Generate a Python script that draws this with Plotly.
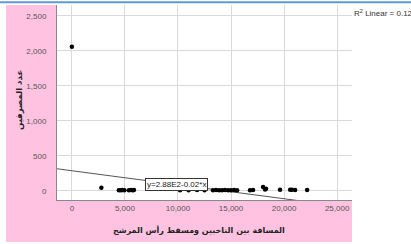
import plotly.graph_objects as go

# Data
distance = [0, 2780, 4430, 4620, 4760, 4950, 5380, 5570, 5750, 5850,
            10200, 11000, 11800, 12500,
            13300, 13585, 13870, 14150, 14430, 14720, 15000, 15280, 15570,
            16790, 17075, 18020, 18210, 18300, 19620, 20570, 20750, 21040, 22170]
count = [2060, 45, 10, 8, 12, 10, 8, 12, 10, 14,
         10, 8, 12, 10,
         10, 12, 8, 10, 12, 10, 8, 12, 10,
         10, 12, 55, 20, 30, 15, 15, 18, 14, 12]

fit_intercept = 288.0
fit_slope = -0.02
fit_x = [-1400, 26400]
fit_y = [fit_intercept + fit_slope * v for v in fit_x]

x_ticks = [0, 5000, 10000, 15000, 20000, 25000]
y_ticks = [0, 500, 1000, 1500, 2000, 2500]

W, H = 411, 244
L, R, T, B = 57, 352, 5, 200  # plot area in pixels


def px(xp):
    return (xp - L) / (R - L)


def py(yp):
    return (B - yp) / (B - T)


fig = go.Figure()
fig.add_trace(go.Scatter(x=fit_x, y=fit_y, mode="lines",
                         line=dict(color="#555555", width=1), hoverinfo="skip"))
fig.add_trace(go.Scatter(x=distance, y=count, mode="markers",
                         marker=dict(color="black", size=4.5)))

pink = "#FFC3E1"
shapes = [
    dict(type="rect", xref="paper", yref="paper", x0=px(6), x1=px(L), y0=py(242), y1=py(T),
         fillcolor=pink, line=dict(width=0), layer="below"),
    dict(type="rect", xref="paper", yref="paper", x0=px(L), x1=px(R), y0=py(242), y1=py(B),
         fillcolor=pink, line=dict(width=0), layer="below"),
    dict(type="line", xref="paper", yref="paper", x0=px(0), x1=px(W), y0=py(2.2), y1=py(2.2),
         line=dict(color="#5B9BD5", width=2)),
]

annotations = [
    dict(x=9900, y=93, xref="x", yref="y", text="y=2.88E2-0.02*x", showarrow=False,
         xanchor="center", yanchor="middle",
         font=dict(family="Liberation Sans", size=8, color="#222"),
         bgcolor="white", bordercolor="#333", borderwidth=1, borderpad=1),
    dict(x=1.0, y=py(13), xref="paper", yref="paper", text="R<sup>2</sup> Linear = 0.120",
         showarrow=False, xanchor="left", yanchor="middle",
         font=dict(family="Liberation Sans", size=8, color="#333")),
    dict(x=px(19), y=py(100), xref="paper", yref="paper", text="<b>عدد المصرفين</b>",
         textangle=-90, showarrow=False, xanchor="center", yanchor="middle",
         font=dict(family="DejaVu Sans", size=8.5, color="#222")),
    dict(x=px(199), y=py(231), xref="paper", yref="paper",
         text="<b>المسافة بين الناخبين ومسقط رأس المرشح</b>", showarrow=False,
         xanchor="center", yanchor="middle",
         font=dict(family="DejaVu Sans", size=8, color="#222")),
]

fig.update_layout(
    width=W, height=H,
    margin=dict(l=L, r=W - R, t=T, b=H - B, pad=0),
    paper_bgcolor="white", plot_bgcolor="white",
    showlegend=False,
    shapes=shapes, annotations=annotations,
    font=dict(family="Liberation Sans", size=8, color="#555"),
)
fig.update_xaxes(range=[-1400, 26400], tickvals=x_ticks, tickformat=",",
                 showgrid=True, gridcolor="#D9D9D9", gridwidth=1, zeroline=False,
                 showline=True, linecolor="#888", linewidth=1, ticks="",
                 tickfont=dict(size=8, color="#555"))
fig.update_yaxes(range=[-130, 2657], tickvals=y_ticks, tickformat=",",
                 showgrid=True, gridcolor="#D9D9D9", gridwidth=1, zeroline=False,
                 showline=True, linecolor="#888", linewidth=1, ticks="",
                 ticklabelstandoff=8,
                 tickfont=dict(size=8, color="#555"))

fig.write_html("out.html", config={"displayModeBar": False},
               post_script="document.body.style.margin='0';")
